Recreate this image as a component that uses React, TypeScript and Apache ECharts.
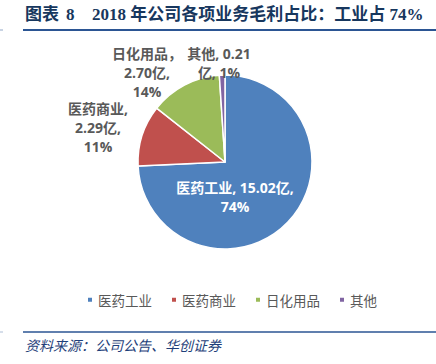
import React, { useEffect, useRef } from "react";
import * as echarts from "echarts";

const categories = ["医药工业", "医药商业", "日化用品", "其他"];
const values = [15.02, 2.29, 2.7, 0.21];
const percentLabels = ["74%", "11%", "14%", "1%"];
const colors = ["#4F81BD", "#C0504D", "#9BBB59", "#8064A2"];
const titlePrefix = "图表";
const titleNumber = "8";
const titleText = "2018 年公司各项业务毛利占比：工业占 74%";
const sourceText = "资料来源：公司公告、华创证券";

const labelPos = [
  [235, 197],
  [98, 127],
  [147, 72],
  [219, 63],
];

function labelText(i: number): string {
  const n = categories[i];
  const v = values[i].toFixed(2);
  const p = percentLabels[i];
  if (i === 0) return `${n}, ${v}亿,\n${p}`;
  if (i === 1) return `${n},\n${v}亿,\n${p}`;
  if (i === 2) return `${n}，\n${v}亿,\n${p}`;
  return `${n}, ${v}\n亿, ${p}`;
}

export default function App() {
  const ref = useRef<HTMLDivElement>(null);
  useEffect(() => {
    const chart = echarts.init(ref.current!, null, { renderer: "svg" });
    const titleStyle = {
      fill: "#17375E",
      fontSize: 17,
      fontWeight: "bold",
      fontFamily: "Liberation Serif, Noto Sans CJK SC",
    };
    chart.setOption({
      animation: false,
      backgroundColor: "#FFFFFF",
      color: colors,
      legend: {
        left: 81,
        top: 288,
        icon: "rect",
        itemWidth: 6,
        itemHeight: 6,
        itemGap: 18,
        textStyle: {
          color: "#595959",
          fontSize: 13.5,
          fontFamily: "Noto Sans CJK SC",
        },
        data: categories,
      },
      graphic: [
        {
          type: "text",
          left: 25,
          top: 6,
          style: { text: titlePrefix, ...titleStyle },
        },
        {
          type: "text",
          left: 66,
          top: 6,
          style: { text: titleNumber, ...titleStyle },
        },
        {
          type: "text",
          left: 92,
          top: 6,
          style: { text: titleText, ...titleStyle },
        },
        {
          type: "line",
          shape: { x1: 23, y1: 30, x2: 436, y2: 30 },
          style: { stroke: "#2B5593", lineWidth: 2 },
        },
        {
          type: "line",
          shape: { x1: 0, y1: 30, x2: 3, y2: 30 },
          style: { stroke: "#C8D3E3", lineWidth: 2 },
        },
        {
          type: "line",
          shape: { x1: 23, y1: 332, x2: 436, y2: 332 },
          style: { stroke: "#2B5593", lineWidth: 1.5 },
        },
        {
          type: "line",
          shape: { x1: 0, y1: 332, x2: 3, y2: 332 },
          style: { stroke: "#C8D3E3", lineWidth: 1.5 },
        },
        {
          type: "text",
          left: 25,
          top: 338,
          style: {
            text: sourceText,
            fill: "#1F3F7A",
            fontSize: 14,
            fontStyle: "italic",
            fontFamily: "Noto Sans CJK SC",
          },
        },
      ],
      series: [
        {
          type: "pie",
          center: [225, 162],
          radius: [0, 87],
          startAngle: 90,
          clockwise: true,
          itemStyle: { borderColor: "#FFFFFF", borderWidth: 1.5 },
          labelLine: { show: false },
          label: {
            show: true,
            position: "inside",
            align: "center",
            fontSize: 14,
            fontWeight: "bold",
            lineHeight: 19,
            fontFamily: "Open Sans, Noto Sans CJK SC",
            formatter: (p: any) => labelText(p.dataIndex),
          },
          labelLayout: (p: any) => ({
            x: labelPos[p.dataIndex][0],
            y: labelPos[p.dataIndex][1],
            align: "center",
            verticalAlign: "middle",
          }),
          data: categories.map((name, i) => ({
            name,
            value: values[i],
            label: { color: i === 0 ? "#FFFFFF" : "#595959" },
          })),
        },
      ],
    });
    return () => chart.dispose();
  }, []);
  return (
    <div
      ref={ref}
      style={{ position: "fixed", left: 0, top: 0, width: 436, height: 364 }}
    />
  );
}
